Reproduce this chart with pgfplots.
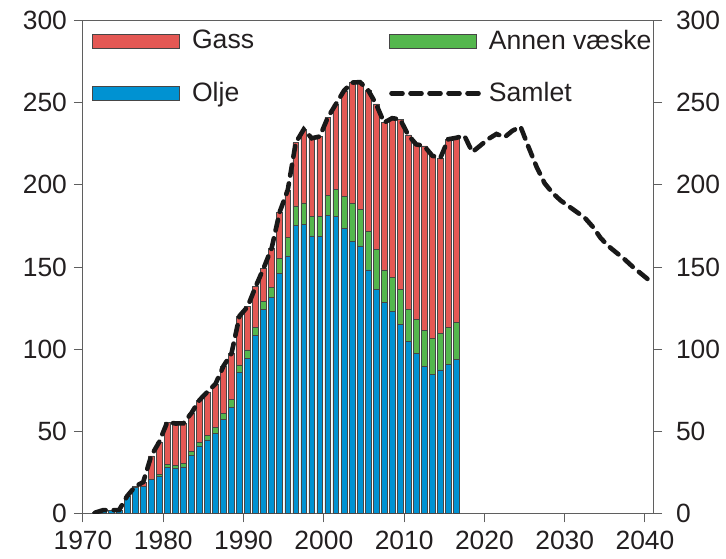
\documentclass[border=0pt]{standalone}
\usepackage{pgfplots}
\pgfplotsset{compat=1.18}
\usepackage{pgfplotstable}
\usepackage{fontspec}
\setmainfont{Liberation Sans}
\definecolor{gassred}{RGB}{228,88,84}
\definecolor{nglgreen}{RGB}{84,183,77}
\definecolor{oilblue}{RGB}{0,146,210}
\definecolor{edge}{RGB}{70,70,70}
\definecolor{axisgray}{RGB}{95,95,95}
\definecolor{txt}{RGB}{35,31,32}
\tikzset{samletstyle/.style={black!90, line width=2.3pt, line cap=round, dash pattern=on 5.5pt off 4pt}}

\pgfplotstableread{
year oil ngl gas
1971 0.4 0 0
1972 1.9 0 0
1973 1.9 0 0
1974 2.0 0 0
1975 10.5 0 0
1976 16.0 0 0.3
1977 16.2 0.3 2.5
1978 20.5 0.5 14.0
1979 22.3 1.2 20.0
1980 28.0 2.0 25.6
1981 27.4 2.0 25.3
1982 28.3 2.0 24.5
1983 35.5 2.0 23.5
1984 41.0 2.4 25.5
1985 44.7 2.8 26.5
1986 48.8 3.7 26.3
1987 57.0 4.0 28.7
1988 64.7 4.7 28.0
1989 86.0 4.4 29.8
1990 94.5 5.0 26.3
1991 108.3 5.0 24.7
1992 124.0 5.0 20.3
1993 131.6 6.1 23.8
1994 146.3 9.0 28.2
1995 156.8 11.0 29.0
1996 175.4 11.8 38.5
1997 176.0 13.0 44.8
1998 168.9 12.0 47.5
1999 168.5 12.5 48.5
2000 181.2 12.4 47.5
2001 181.0 16.2 52.0
2002 173.6 19.2 64.5
2003 165.4 23.4 73.5
2004 162.8 22.3 77.5
2005 148.2 23.7 85.9
2006 136.4 24.4 88.5
2007 128.3 19.9 89.7
2008 122.8 20.9 96.9
2009 115.1 21.3 103.6
2010 104.5 19.7 106.2
2011 97.4 20.9 106.4
2012 89.3 22.3 112.1
2013 84.7 21.9 111.2
2014 87.3 22.3 106.6
2015 90.9 22.4 114.5
2016 93.8 22.3 112.6
}\bars

\pgfplotstableread{
year total
1971 0.4
1972 1.9
1973 1.9
1974 2.0
1975 10.5
1976 16.3
1977 19.0
1978 35.0
1979 43.5
1980 55.6
1981 54.7
1982 54.8
1983 61.0
1984 68.9
1985 74.0
1986 78.8
1987 89.7
1988 97.4
1989 120.2
1990 125.8
1991 138.0
1992 149.3
1993 161.5
1994 183.5
1995 196.8
1996 225.7
1997 233.8
1998 228.4
1999 229.5
2000 241.1
2001 249.2
2002 257.3
2003 262.3
2004 262.6
2005 257.8
2006 249.3
2007 237.9
2008 240.6
2009 240.0
2010 230.4
2011 224.7
2012 223.7
2013 217.8
2014 216.2
2015 227.8
2016 228.7
2017 230
2018 220
2019 224
2020 228
2021 231
2022 229
2023 233
2024 235.5
2025 223
2026 211
2027 201
2028 195
2029 190.5
2030 187
2031 183.5
2032 180
2033 174.5
2034 167.5
2035 162.5
2036 158.5
2037 154.5
2038 150
2039 146
2040 142
}\samlet

\begin{document}
\begin{tikzpicture}
\useasboundingbox (-41.5pt,-22.35pt) rectangle (321.5pt,256.65pt);
\pgfplotsset{
  common/.style={
    width=285pt, height=246.3pt, scale only axis,
    xmin=1970, xmax=2041, ymin=0, ymax=300,
    xtick={1970,1980,...,2040}, ytick={0,50,...,300},
    tick align=outside, major tick length=4.5pt,
    axis line style={axisgray, line width=0.5pt},
    major tick style={axisgray, line width=0.5pt},
    /pgf/number format/assume math mode=true,
    /pgf/number format/1000 sep={},
    ticklabel style={font=\fontsize{13.2}{15}\selectfont, text=txt},
  },
}
\begin{axis}[common, ybar stacked, bar width=0.72,
  xtick pos=bottom, ytick pos=left,
  xticklabel style={yshift=-1pt},
  legend columns=2,
  legend cell align=left,
  legend style={at={(0.0155,0.99)}, anchor=north west, draw=none, fill=none,
    font=\fontsize{13.3}{15}\selectfont, text=txt, inner sep=0pt, row sep=11pt,
    /tikz/every even column/.append style={column sep=65.5pt}},
]
\addplot[forget plot, fill=oilblue, draw=edge, line width=0.3pt] table[x expr=\thisrow{year}+0.5, y=oil]{\bars};
\addplot[forget plot, fill=nglgreen, draw=edge, line width=0.3pt] table[x expr=\thisrow{year}+0.5, y=ngl]{\bars};
\addplot[forget plot, fill=gassred, draw=edge, line width=0.3pt] table[x expr=\thisrow{year}+0.5, y=gas]{\bars};
\addlegendimage{legend image code/.code={\draw[fill=gassred, draw=edge, line width=0.4pt] (0pt,-3.5pt) rectangle (43.5pt,3.5pt); \path (47.5pt,0pt);}}
\addlegendentry{Gass}
\addlegendimage{legend image code/.code={\draw[fill=nglgreen, draw=edge, line width=0.4pt] (0pt,-3.5pt) rectangle (43.5pt,3.5pt); \path (47.5pt,0pt);}}
\addlegendentry{Annen væske}
\addlegendimage{legend image code/.code={\draw[fill=oilblue, draw=edge, line width=0.4pt] (0pt,-3.5pt) rectangle (43.5pt,3.5pt); \path (47.5pt,0pt);}}
\addlegendentry{Olje}
\addlegendimage{legend image code/.code={\draw[samletstyle] (1pt,0pt) -- (45pt,0pt); \path (47.5pt,0pt);}}
\addlegendentry{Samlet}
\end{axis}
\begin{axis}[common, axis x line=none, axis y line*=right, ytick pos=right, xtick=\empty,
  yticklabel style={xshift=3.5pt}]
\addplot[samletstyle, no markers] table[x expr=\thisrow{year}+0.5, y=total]{\samlet};
\end{axis}
\end{tikzpicture}
\end{document}
